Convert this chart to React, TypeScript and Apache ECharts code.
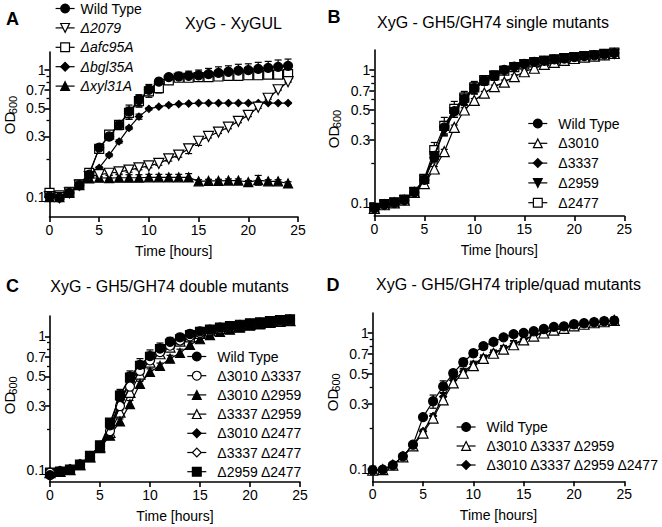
import React, { useEffect, useRef } from "react";
import * as echarts from "echarts";

const FONT = "Liberation Sans, Arial, Helvetica, sans-serif";

// ---- shared axes data ----
const hours = [0, 1, 2, 3, 4, 5, 6, 7, 8, 9, 10, 11, 12, 13, 14, 15, 16, 17, 18, 19, 20, 21, 22, 23, 24];
const xTickInterval = 5;
const yMajorTicks = [0.1, 0.3, 0.5, 0.7, 1];
const yMinorTicks = [0.2, 0.4, 0.6, 0.8, 0.9];

// ---- Panel A: XyG - XyGUL ----
const aWildType = [0.101, 0.099, 0.108, 0.124, 0.150, 0.245, 0.300, 0.370, 0.470, 0.580, 0.700, 0.810, 0.880, 0.890, 0.900, 0.910, 0.930, 0.950, 0.970, 0.990, 1.000, 1.020, 1.040, 1.060, 1.080];
const aWildTypeErr = [0.004, 0.004, 0.004, 0.005, 0.008, 0.012, 0.018, 0.03, 0.06, 0.06, 0.07, 0.05, 0.05, 0.07, 0.08, 0.09, 0.10, 0.11, 0.11, 0.12, 0.12, 0.13, 0.13, 0.14, 0.14];
const a2079 = [0.101, 0.099, 0.108, 0.124, 0.145, 0.150, 0.154, 0.158, 0.163, 0.170, 0.176, 0.184, 0.200, 0.214, 0.240, 0.275, 0.300, 0.325, 0.355, 0.395, 0.440, 0.510, 0.600, 0.700, 0.810];
const a2079Err = [0, 0, 0, 0, 0, 0.005, 0.006, 0.006, 0.006, 0.006, 0.006, 0.006, 0.008, 0.008, 0.02, 0.02, 0.008, 0.008, 0.01, 0.01, 0.01, 0.01, 0.01, 0.01, 0.01];
const aAfc95A = [0.108, 0.103, 0.110, 0.126, 0.155, 0.240, 0.310, 0.370, 0.460, 0.570, 0.680, 0.720, 0.830, 0.870, 0.870, 0.880, 0.880, 0.890, 0.900, 0.900, 0.910, 0.910, 0.920, 0.920, 0.930];
const aAfc95AErr = [0.005, 0.005, 0.005, 0.006, 0.008, 0.012, 0.02, 0.03, 0.05, 0.06, 0.07, 0.06, 0.05, 0.05, 0.05, 0.06, 0.06, 0.06, 0.06, 0.06, 0.06, 0.06, 0.06, 0.06, 0.06];
const aBgl35A = [0.100, 0.100, 0.108, 0.124, 0.150, 0.170, 0.214, 0.274, 0.350, 0.430, 0.495, 0.515, 0.530, 0.540, 0.545, 0.550, 0.550, 0.550, 0.550, 0.550, 0.550, 0.550, 0.550, 0.550, 0.550];
const aBgl35AErr = [0, 0, 0, 0, 0, 0.004, 0.006, 0.008, 0.01, 0.02, 0.01, 0.008, 0.008, 0.006, 0.006, 0.006, 0.006, 0.006, 0.006, 0.006, 0.006, 0.006, 0.006, 0.006, 0.006];
const aXyl31A = [0.100, 0.100, 0.108, 0.124, 0.140, 0.142, 0.141, 0.142, 0.142, 0.142, 0.143, 0.143, 0.143, 0.143, 0.143, 0.133, 0.134, 0.134, 0.135, 0.135, 0.131, 0.136, 0.133, 0.133, 0.128];
const aXyl31AErr = [0, 0, 0, 0, 0.004, 0.008, 0.008, 0.008, 0.008, 0.008, 0.008, 0.008, 0.008, 0.008, 0.01, 0.004, 0.004, 0.004, 0.004, 0.004, 0.004, 0.012, 0.004, 0.004, 0.004];

// ---- Panel B: single mutants ----
const bWildType = [0.091, 0.097, 0.100, 0.105, 0.120, 0.149, 0.220, 0.370, 0.490, 0.600, 0.730, 0.830, 0.900, 1.000, 1.060, 1.110, 1.150, 1.170, 1.200, 1.220, 1.250, 1.270, 1.290, 1.310, 1.340];
const bWildTypeErr = [0.003, 0.003, 0.003, 0.004, 0.005, 0.008, 0.02, 0.04, 0.05, 0.06, 0.07, 0.06, 0.06, 0.06, 0.05, 0.05, 0.06, 0.06, 0.06, 0.07, 0.07, 0.07, 0.08, 0.08, 0.08];
const b3010 = [0.091, 0.097, 0.100, 0.105, 0.120, 0.140, 0.180, 0.243, 0.370, 0.500, 0.590, 0.670, 0.750, 0.810, 0.890, 0.970, 1.030, 1.100, 1.140, 1.180, 1.220, 1.250, 1.270, 1.300, 1.330];
const b3010Err = [0, 0, 0, 0, 0.004, 0.005, 0.008, 0.01, 0.015, 0.02, 0.02, 0.02, 0.02, 0.03, 0.03, 0.03, 0.03, 0.04, 0.04, 0.04, 0.05, 0.05, 0.05, 0.05, 0.05];
const b3337 = [0.091, 0.097, 0.100, 0.106, 0.121, 0.150, 0.230, 0.360, 0.500, 0.620, 0.740, 0.840, 0.920, 1.000, 1.060, 1.100, 1.140, 1.170, 1.200, 1.230, 1.250, 1.280, 1.300, 1.320, 1.350];
const b3337Err = [0, 0, 0, 0, 0.004, 0.006, 0.02, 0.03, 0.04, 0.05, 0.05, 0.05, 0.05, 0.05, 0.05, 0.05, 0.05, 0.05, 0.06, 0.06, 0.06, 0.06, 0.06, 0.06, 0.06];
const b2959 = [0.091, 0.097, 0.100, 0.105, 0.120, 0.148, 0.225, 0.350, 0.480, 0.600, 0.720, 0.820, 0.900, 0.980, 1.040, 1.100, 1.140, 1.170, 1.190, 1.220, 1.240, 1.260, 1.280, 1.300, 1.320];
const b2959Err = [0, 0, 0, 0, 0.004, 0.006, 0.02, 0.03, 0.04, 0.05, 0.05, 0.05, 0.05, 0.05, 0.05, 0.05, 0.05, 0.06, 0.06, 0.06, 0.06, 0.07, 0.07, 0.07, 0.08];
const b2477 = [0.092, 0.098, 0.101, 0.106, 0.121, 0.152, 0.250, 0.380, 0.510, 0.620, 0.740, 0.840, 0.910, 0.990, 1.050, 1.100, 1.140, 1.170, 1.200, 1.230, 1.250, 1.270, 1.290, 1.320, 1.350];
const b2477Err = [0.003, 0.003, 0.003, 0.004, 0.005, 0.008, 0.035, 0.06, 0.07, 0.07, 0.08, 0.06, 0.07, 0.06, 0.05, 0.05, 0.05, 0.05, 0.05, 0.06, 0.06, 0.06, 0.06, 0.07, 0.07];

// ---- Panel C: double mutants ----
const cWildType = [0.091, 0.097, 0.100, 0.109, 0.126, 0.151, 0.215, 0.360, 0.500, 0.610, 0.710, 0.810, 0.910, 0.980, 1.040, 1.090, 1.120, 1.160, 1.190, 1.210, 1.230, 1.260, 1.280, 1.310, 1.330];
const cWildTypeErr = [0.003, 0.003, 0.003, 0.004, 0.005, 0.008, 0.02, 0.04, 0.05, 0.07, 0.08, 0.08, 0.07, 0.07, 0.07, 0.06, 0.06, 0.06, 0.06, 0.06, 0.07, 0.07, 0.07, 0.08, 0.08];
const c3010x3337 = [0.095, 0.097, 0.100, 0.109, 0.126, 0.150, 0.195, 0.300, 0.420, 0.550, 0.660, 0.760, 0.850, 0.930, 1.000, 1.060, 1.100, 1.140, 1.180, 1.200, 1.230, 1.250, 1.270, 1.290, 1.310];
const c3010x3337Err = [0, 0, 0, 0, 0.004, 0.005, 0.01, 0.02, 0.03, 0.03, 0.04, 0.04, 0.04, 0.04, 0.05, 0.05, 0.05, 0.05, 0.05, 0.05, 0.05, 0.05, 0.06, 0.06, 0.06];
const c3010x2959 = [0.095, 0.097, 0.100, 0.108, 0.124, 0.145, 0.180, 0.230, 0.310, 0.440, 0.540, 0.600, 0.680, 0.750, 0.860, 0.950, 1.020, 1.080, 1.120, 1.160, 1.200, 1.230, 1.260, 1.290, 1.310];
const c3010x2959Err = [0, 0, 0, 0, 0.004, 0.005, 0.008, 0.01, 0.02, 0.02, 0.03, 0.03, 0.04, 0.05, 0.06, 0.05, 0.05, 0.05, 0.05, 0.05, 0.06, 0.06, 0.06, 0.06, 0.06];
const c3337x2959 = [0.095, 0.097, 0.100, 0.109, 0.125, 0.148, 0.190, 0.270, 0.380, 0.520, 0.640, 0.740, 0.830, 0.920, 0.990, 1.050, 1.100, 1.140, 1.170, 1.200, 1.230, 1.250, 1.270, 1.290, 1.310];
const c3337x2959Err = [0, 0, 0, 0, 0.004, 0.005, 0.01, 0.02, 0.03, 0.03, 0.04, 0.04, 0.04, 0.05, 0.05, 0.05, 0.05, 0.05, 0.05, 0.05, 0.05, 0.05, 0.06, 0.06, 0.06];
const c3010x2477 = [0.095, 0.097, 0.100, 0.109, 0.126, 0.150, 0.205, 0.330, 0.460, 0.580, 0.690, 0.790, 0.880, 0.950, 1.020, 1.070, 1.110, 1.150, 1.180, 1.210, 1.240, 1.260, 1.280, 1.300, 1.320];
const c3010x2477Err = [0, 0, 0, 0, 0.004, 0.005, 0.01, 0.02, 0.03, 0.04, 0.04, 0.04, 0.05, 0.05, 0.05, 0.05, 0.05, 0.05, 0.05, 0.05, 0.05, 0.05, 0.06, 0.06, 0.06];
const c3337x2477 = [0.095, 0.097, 0.100, 0.109, 0.126, 0.150, 0.200, 0.320, 0.450, 0.570, 0.680, 0.780, 0.870, 0.950, 1.010, 1.070, 1.110, 1.150, 1.180, 1.210, 1.240, 1.260, 1.280, 1.300, 1.320];
const c3337x2477Err = [0, 0, 0, 0, 0.004, 0.005, 0.01, 0.02, 0.03, 0.04, 0.04, 0.04, 0.05, 0.05, 0.05, 0.05, 0.05, 0.05, 0.05, 0.05, 0.05, 0.05, 0.06, 0.06, 0.06];
const c2959x2477 = [0.095, 0.097, 0.100, 0.109, 0.127, 0.152, 0.225, 0.360, 0.490, 0.600, 0.700, 0.800, 0.880, 0.950, 1.020, 1.080, 1.120, 1.160, 1.190, 1.220, 1.250, 1.270, 1.300, 1.320, 1.340];
const c2959x2477Err = [0, 0, 0, 0, 0.004, 0.006, 0.015, 0.03, 0.04, 0.05, 0.06, 0.06, 0.06, 0.06, 0.06, 0.06, 0.06, 0.06, 0.06, 0.06, 0.07, 0.07, 0.07, 0.08, 0.08];

// ---- Panel D: triple / quad mutants ----
const dWildType = [0.098, 0.099, 0.107, 0.124, 0.151, 0.241, 0.315, 0.405, 0.506, 0.610, 0.710, 0.800, 0.860, 0.930, 0.980, 1.000, 1.030, 1.070, 1.110, 1.120, 1.160, 1.180, 1.200, 1.220, 1.230];
const dWildTypeErr = [0.007, 0.004, 0.004, 0.005, 0.006, 0.008, 0.035, 0.04, 0.03, 0.04, 0.04, 0.04, 0.03, 0.04, 0.03, 0.03, 0.04, 0.05, 0.05, 0.06, 0.06, 0.06, 0.07, 0.07, 0.07];
const dTriple = [0.098, 0.099, 0.107, 0.123, 0.148, 0.184, 0.237, 0.323, 0.430, 0.506, 0.575, 0.650, 0.710, 0.760, 0.820, 0.890, 0.950, 1.000, 1.050, 1.080, 1.130, 1.160, 1.190, 1.210, 1.240];
const dTripleErr = [0, 0, 0, 0, 0.004, 0.006, 0.01, 0.02, 0.03, 0.03, 0.03, 0.03, 0.03, 0.04, 0.05, 0.05, 0.05, 0.05, 0.05, 0.05, 0.06, 0.06, 0.06, 0.07, 0.07];
const dQuad = [0.098, 0.099, 0.107, 0.124, 0.150, 0.190, 0.245, 0.340, 0.450, 0.520, 0.590, 0.660, 0.720, 0.770, 0.830, 0.900, 0.960, 1.010, 1.060, 1.090, 1.130, 1.160, 1.180, 1.210, 1.230];
const dQuadErr = [0, 0, 0, 0, 0.004, 0.006, 0.01, 0.02, 0.03, 0.03, 0.03, 0.03, 0.03, 0.04, 0.05, 0.05, 0.05, 0.05, 0.05, 0.05, 0.06, 0.06, 0.06, 0.07, 0.07];

type SeriesDef = {
  label: string;
  italic?: boolean;
  values: number[];
  errors: number[];
  symbol: string;
  size: number;
  filled: boolean;
  rotate?: number;
};

type PanelDef = {
  letter: string;
  title: string;
  grid: { left: number; top: number; width: number; height: number };
  yMin: number;
  yMax: number;
  legend: { left: number; top: number; pad: number; gap: number };
  letterPos: [number, number];
  titlePos: [number, number];
  odPos: [number, number];
  subPos: [number, number];
  series: SeriesDef[];
};

const panels: PanelDef[] = [
  {
    letter: "A",
    title: "XyG - XyGUL",
    grid: { left: 49.5, top: 52, width: 248.5, height: 165 },
    yMin: 0.0697,
    yMax: 1.387,
    legend: { left: 55, top: 1.5, pad: 1, gap: 5.4 },
    letterPos: [12.5, 18.5],
    titlePos: [233.5, 23.3],
    odPos: [9, 123],
    subPos: [12.5, 105],
    series: [
      { label: "Wild Type", values: aWildType, errors: aWildTypeErr, symbol: "circle", size: 9, filled: true },
      { label: "\u03942079", italic: true, values: a2079, errors: a2079Err, symbol: "triangle", size: 10, filled: false, rotate: 180 },
      { label: "\u0394afc95A", italic: true, values: aAfc95A, errors: aAfc95AErr, symbol: "rect", size: 9, filled: false },
      { label: "\u0394bgl35A", italic: true, values: aBgl35A, errors: aBgl35AErr, symbol: "diamond", size: 7, filled: true },
      { label: "\u0394xyl31A", italic: true, values: aXyl31A, errors: aXyl31AErr, symbol: "triangle", size: 9, filled: true },
    ],
  },
  {
    letter: "B",
    title: "XyG - GH5/GH74 single mutants",
    grid: { left: 374.3, top: 50, width: 250, height: 166 },
    yMin: 0.0798,
    yMax: 1.413,
    legend: { left: 527.7, top: 116.5, pad: 6, gap: 5.8 },
    letterPos: [334, 17],
    titlePos: [493, 22],
    odPos: [333.8, 137],
    subPos: [337.3, 119],
    series: [
      { label: "Wild Type", values: bWildType, errors: bWildTypeErr, symbol: "circle", size: 9, filled: true },
      { label: "\u03943010", values: b3010, errors: b3010Err, symbol: "triangle", size: 10, filled: false },
      { label: "\u03943337", values: b3337, errors: b3337Err, symbol: "diamond", size: 7, filled: true },
      { label: "\u03942959", values: b2959, errors: b2959Err, symbol: "triangle", size: 9, filled: true, rotate: 180 },
      { label: "\u03942477", values: b2477, errors: b2477Err, symbol: "rect", size: 9, filled: false },
    ],
  },
  {
    letter: "C",
    title: "XyG - GH5/GH74 double mutants",
    grid: { left: 50, top: 316, width: 250, height: 166 },
    yMin: 0.0809,
    yMax: 1.419,
    legend: { left: 186.7, top: 349.5, pad: 6, gap: 5.2 },
    letterPos: [12.5, 286.3],
    titlePos: [169.5, 286.3],
    odPos: [9.5, 403],
    subPos: [13, 385.5],
    series: [
      { label: "Wild Type", values: cWildType, errors: cWildTypeErr, symbol: "circle", size: 9, filled: true },
      { label: "\u03943010 \u03943337", values: c3010x3337, errors: c3010x3337Err, symbol: "circle", size: 9, filled: false },
      { label: "\u03943010 \u03942959", values: c3010x2959, errors: c3010x2959Err, symbol: "triangle", size: 9, filled: true },
      { label: "\u03943337 \u03942959", values: c3337x2959, errors: c3337x2959Err, symbol: "triangle", size: 10, filled: false },
      { label: "\u03943010 \u03942477", values: c3010x2477, errors: c3010x2477Err, symbol: "diamond", size: 7, filled: true },
      { label: "\u03943337 \u03942477", values: c3337x2477, errors: c3337x2477Err, symbol: "diamond", size: 7, filled: false },
      { label: "\u03942959 \u03942477", values: c2959x2477, errors: c2959x2477Err, symbol: "rect", size: 9, filled: true },
    ],
  },
  {
    letter: "D",
    title: "XyG - GH5/GH74 triple/quad mutants",
    grid: { left: 372.7, top: 313, width: 251.6, height: 168.3 },
    yMin: 0.0813,
    yMax: 1.403,
    legend: { left: 456, top: 420, pad: 6, gap: 5 },
    letterPos: [333, 284.5],
    titlePos: [508.5, 284.5],
    odPos: [332.2, 400],
    subPos: [335.7, 382.5],
    series: [
      { label: "Wild Type", values: dWildType, errors: dWildTypeErr, symbol: "circle", size: 9, filled: true },
      { label: "\u03943010 \u03943337 \u03942959", values: dTriple, errors: dTripleErr, symbol: "triangle", size: 10, filled: false },
      { label: "\u03943010 \u03943337 \u03942959 \u03942477", values: dQuad, errors: dQuadErr, symbol: "diamond", size: 7, filled: true },
    ],
  },
];

const lg = (v: number) => Math.log10(v);

function buildOption() {
  const grid: any[] = [];
  const xAxis: any[] = [];
  const yAxis: any[] = [];
  const series: any[] = [];
  const legend: any[] = [];
  const graphic: any[] = [];
  const nameMap: Record<string, SeriesDef> = {};

  panels.forEach((p, i) => {
    grid.push({ ...p.grid, containLabel: false });
    xAxis.push({
      type: "value",
      gridIndex: i,
      min: 0,
      max: 25,
      interval: xTickInterval,
      name: "Time [hours]",
      nameLocation: "middle",
      nameGap: 27,
      nameTextStyle: { color: "#000", fontSize: 14, fontWeight: "normal", fontFamily: FONT },
      axisLine: { onZero: false, lineStyle: { color: "#000", width: 1.6 } },
      axisTick: { inside: false, length: 5, lineStyle: { color: "#000", width: 1.6 } },
      axisLabel: { color: "#000", fontSize: 14, fontWeight: "normal", fontFamily: FONT, margin: 6 },
      splitLine: { show: false },
    });
    const yMin = lg(p.yMin);
    const yMax = lg(p.yMax);
    const majors = yMajorTicks.map(lg);
    yAxis.push({
      type: "value",
      gridIndex: i,
      position: "left",
      min: yMin,
      max: yMax,
      axisLine: { show: true, onZero: false, lineStyle: { color: "#000", width: 1.6 } },
      axisTick: { show: true, inside: false, length: 5, customValues: majors, lineStyle: { color: "#000", width: 1.6 } },
      axisLabel: {
        color: "#000",
        fontSize: 14,
        fontWeight: "normal",
        fontFamily: FONT,
        margin: 4,
        customValues: majors,
        formatter: (v: number) => {
          const x = Math.pow(10, v);
          return x > 0.95 ? "1" : x.toFixed(1);
        },
      },
      splitLine: { show: false },
    });
    yAxis.push({
      type: "value",
      gridIndex: i,
      position: "left",
      offset: 0,
      min: yMin,
      max: yMax,
      axisLine: { show: false, onZero: false },
      axisTick: { show: true, inside: false, length: 3, customValues: yMinorTicks.map(lg), lineStyle: { color: "#000", width: 1.3 } },
      axisLabel: { show: false },
      splitLine: { show: false },
    });

    const legendNames: string[] = [];
    const n = p.series.length;
    p.series.forEach((s, k) => {
      const id = `${p.letter}${k}|${s.label}`;
      nameMap[id] = s;
      legendNames.push(id);
      series.push({
        type: "line",
        name: id,
        xAxisIndex: i,
        yAxisIndex: i * 2,
        data: hours.map((t, j) => [t, lg(s.values[j])]),
        symbol: s.symbol,
        symbolSize: s.size,
        symbolRotate: s.rotate || 0,
        showSymbol: true,
        lineStyle: { color: "#000", width: 1.2 },
        itemStyle: { color: s.filled ? "#000" : "#fff", borderColor: "#000", borderWidth: 1.2 },
        emphasis: { disabled: true },
        silent: true,
        z: 3 + (n - k),
      });
      const errData = hours
        .map((t, j) => (s.errors[j] > 0 ? [t, lg(s.values[j] - s.errors[j]), lg(s.values[j] + s.errors[j])] : null))
        .filter((d) => d !== null);
      series.push({
        type: "custom",
        name: `err-${id}`,
        xAxisIndex: i,
        yAxisIndex: i * 2,
        silent: true,
        z: 2,
        data: errData,
        renderItem: (params: any, api: any) => {
          const x = api.value(0);
          const lo = api.coord([x, api.value(1)]);
          const hi = api.coord([x, api.value(2)]);
          const w = 3.5;
          const st = { stroke: "#000", lineWidth: 1.2 };
          return {
            type: "group",
            children: [
              { type: "line", shape: { x1: lo[0], y1: lo[1], x2: hi[0], y2: hi[1] }, style: st },
              { type: "line", shape: { x1: lo[0] - w, y1: lo[1], x2: lo[0] + w, y2: lo[1] }, style: st },
              { type: "line", shape: { x1: hi[0] - w, y1: hi[1], x2: hi[0] + w, y2: hi[1] }, style: st },
            ],
          };
        },
      });
    });

    legend.push({
      orient: "vertical",
      left: p.legend.left,
      top: p.legend.top,
      padding: 0,
      itemWidth: 19,
      itemHeight: 11,
      itemGap: p.legend.gap,
      selectedMode: false,
      data: legendNames,
      formatter: (name: string) => {
        const s = nameMap[name];
        return s.italic ? `{it|${s.label}}` : s.label;
      },
      itemStyle: { borderColor: "#000", borderWidth: 1.2 },
      lineStyle: { color: "#000", width: 1.2 },
      textStyle: {
        color: "#000",
        fontSize: 14,
        fontWeight: "normal",
        fontFamily: FONT,
        padding: [0, 0, 0, p.legend.pad],
        rich: { it: { fontStyle: "italic", fontSize: 14, fontFamily: FONT, color: "#000" } },
      },
    });

    graphic.push({
      type: "text",
      x: p.letterPos[0],
      y: p.letterPos[1],
      style: { text: p.letter, fontSize: 18, fontWeight: "bold", fontFamily: FONT, fill: "#000", align: "center", verticalAlign: "middle" },
    });
    graphic.push({
      type: "text",
      x: p.titlePos[0],
      y: p.titlePos[1],
      style: { text: p.title, fontSize: 16, fontFamily: FONT, fill: "#000", align: "center", verticalAlign: "middle" },
    });
    graphic.push({
      type: "text",
      x: p.odPos[0],
      y: p.odPos[1],
      rotation: Math.PI / 2,
      style: { text: "OD", fontSize: 15, fontFamily: FONT, fill: "#000", align: "center", verticalAlign: "middle" },
    });
    graphic.push({
      type: "text",
      x: p.subPos[0],
      y: p.subPos[1],
      rotation: Math.PI / 2,
      style: { text: "600", fontSize: 11, fontFamily: FONT, fill: "#000", align: "center", verticalAlign: "middle" },
    });
  });

  return {
    animation: false,
    backgroundColor: "#fff",
    grid,
    xAxis,
    yAxis,
    series,
    legend,
    graphic,
  };
}

export default function App() {
  const ref = useRef<HTMLDivElement>(null);
  useEffect(() => {
    if (!ref.current) return;
    const chart = echarts.init(ref.current, undefined, { renderer: "svg" });
    chart.setOption(buildOption() as any);
    return () => chart.dispose();
  }, []);
  return <div ref={ref} style={{ position: "absolute", left: 0, top: 0, width: 662, height: 527, background: "#fff" }} />;
}
